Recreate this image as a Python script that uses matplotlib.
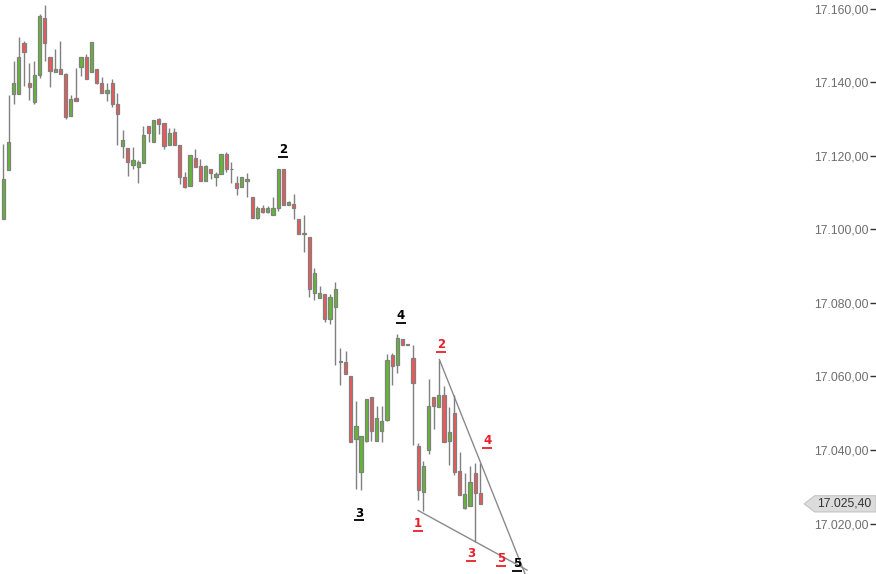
import numpy as np
import matplotlib
matplotlib.use('Agg')
import matplotlib.pyplot as plt
from matplotlib.patches import Polygon
from matplotlib.ticker import FuncFormatter
import matplotlib.transforms as mtransforms

# OHLC, one entry per candle
opens = [17102.9, 17116.0, 17136.7, 17136.7, 17150.6, 17139.7, 17134.5, 17141.9, 17157.4, 17146.7,
         17142.7, 17143.5, 17142.1, 17130.7, 17135.6, 17144.0, 17146.7, 17142.7, 17143.5, 17139.7,
         17137.0, 17139.7, 17134.0, 17122.5, 17122.0, 17117.6, 17116.8, 17117.9, 17128.2, 17123.6,
         17129.9, 17128.8, 17122.8, 17126.4, 17122.8, 17114.1, 17111.9, 17119.3, 17117.1, 17113.0,
         17116.3, 17114.1, 17114.9, 17120.4, 17116.3, 17112.7, 17111.4, 17113.0, 17108.7, 17103.2,
         17105.7, 17104.8, 17104.0, 17105.7, 17116.5, 17106.7, 17107.0, 17102.9, 17098.6, 17097.8,
         17082.8, 17081.2, 17082.3, 17075.7, 17079.0, 17064.0, 17064.0, 17060.2, 17043.1, 17034.1,
         17042.5, 17054.5, 17042.5, 17045.2, 17048.2, 17065.9, 17063.2, 17070.3, 17068.6, 17065.1,
         17041.2, 17028.7, 17040.1, 17054.5, 17051.8, 17055.1, 17042.5, 17050.1, 17034.4, 17024.3,
         17024.8, 17033.8, 17028.4]
highs = [17123.3, 17136.4, 17145.7, 17152.2, 17151.1, 17145.1, 17145.7, 17158.4, 17160.9, 17146.7,
         17148.9, 17151.1, 17142.4, 17136.4, 17143.8, 17146.7, 17147.6, 17150.8, 17143.5, 17141.3,
         17139.7, 17140.8, 17137.0, 17126.9, 17122.0, 17122.3, 17118.7, 17128.2, 17128.2, 17129.6,
         17130.2, 17128.8, 17127.4, 17127.4, 17122.8, 17115.5, 17120.1, 17121.7, 17119.0, 17117.4,
         17116.3, 17115.7, 17120.4, 17120.9, 17118.2, 17114.4, 17114.1, 17115.2, 17108.7, 17106.2,
         17106.7, 17106.2, 17108.7, 17116.3, 17116.5, 17107.6, 17109.5, 17102.9, 17103.8, 17098.0,
         17089.6, 17084.7, 17082.3, 17082.3, 17085.8, 17067.8, 17067.0, 17060.2, 17053.4, 17043.9,
         17054.0, 17054.5, 17052.0, 17052.0, 17066.2, 17066.5, 17071.6, 17070.3, 17068.6, 17068.6,
         17042.0, 17037.1, 17059.4, 17054.5, 17064.6, 17057.5, 17051.8, 17055.1, 17039.5, 17033.8,
         17035.7, 17036.5, 17036.5]
lows = [17102.9, 17116.0, 17134.0, 17136.7, 17138.9, 17135.0, 17134.0, 17141.0, 17145.7, 17138.6,
        17142.7, 17142.1, 17129.9, 17130.7, 17134.8, 17141.6, 17140.8, 17142.7, 17139.4, 17137.0,
        17134.8, 17133.1, 17122.8, 17119.3, 17114.4, 17116.5, 17112.7, 17117.9, 17123.6, 17123.6,
        17125.8, 17121.7, 17122.8, 17122.8, 17112.2, 17111.1, 17111.9, 17116.8, 17113.0, 17113.0,
        17113.6, 17111.9, 17114.9, 17115.7, 17112.7, 17109.2, 17111.4, 17108.7, 17103.2, 17102.7,
        17104.3, 17104.3, 17104.0, 17105.1, 17106.5, 17106.7, 17102.9, 17098.6, 17093.9, 17081.7,
        17080.9, 17081.2, 17074.9, 17074.4, 17063.2, 17057.8, 17060.8, 17042.3, 17029.5, 17029.2,
        17042.3, 17042.5, 17042.5, 17042.3, 17048.0, 17057.8, 17061.0, 17068.6, 17068.6, 17041.4,
        17026.5, 17023.5, 17039.0, 17045.8, 17051.8, 17042.3, 17036.0, 17033.3, 17027.8, 17024.0,
        17024.8, 17015.1, 17025.4]
closes = [17113.6, 17123.6, 17139.7, 17146.7, 17148.1, 17138.6, 17141.9, 17157.9, 17150.6, 17142.9,
          17143.5, 17142.1, 17130.4, 17135.3, 17134.8, 17146.7, 17140.8, 17150.8, 17139.7, 17137.0,
          17137.8, 17134.0, 17131.2, 17124.2, 17118.2, 17118.7, 17118.2, 17125.5, 17126.1, 17129.6,
          17128.5, 17122.5, 17126.1, 17122.8, 17114.1, 17111.4, 17120.1, 17116.8, 17113.0, 17117.1,
          17115.2, 17114.9, 17120.4, 17116.3, 17116.3, 17111.1, 17114.1, 17113.8, 17103.2, 17105.9,
          17104.8, 17105.9, 17105.7, 17116.3, 17106.5, 17107.3, 17105.9, 17098.6, 17099.1, 17083.9,
          17088.2, 17082.8, 17075.7, 17081.7, 17083.9, 17064.0, 17060.8, 17042.3, 17046.6, 17043.9,
          17054.0, 17045.2, 17048.8, 17048.0, 17064.6, 17062.9, 17070.5, 17068.6, 17068.6, 17058.3,
          17029.2, 17035.7, 17052.0, 17052.0, 17055.1, 17042.3, 17045.0, 17034.1, 17027.8, 17028.1,
          17031.4, 17028.4, 17025.4]

last_price = 17025.40
y_ticks = [17020, 17040, 17060, 17080, 17100, 17120, 17140, 17160]

# wave counts: (text, candle position, price, colour)
wave_labels = [('2', 54.0, 17121.6, 'black'), ('4', 76.7, 17076.6, 'black'),
               ('3', 68.6, 17022.9, 'black'), ('5', 99.1, 17009.2, 'black'),
               ('1', 80.0, 17020.1, '#e8202a'), ('2', 84.4, 17068.6, '#e8202a'),
               ('4', 93.3, 17042.6, '#e8202a'), ('3', 90.2, 17011.8, '#e8202a'),
               ('5', 96.0, 17010.6, '#e8202a')]

# wedge lines (start / end points)
lower_x = [80.0, 101.0]
lower_y = [17023.6, 17007.4]
upper_x = [84.1, 101.0]
upper_y = [17064.6, 17005.0]

up_col = '#62b832'
down_col = '#ef5656'
edge_col = '#808080'

fig = plt.figure(figsize=(8.76, 5.74), dpi=100)
ax = fig.add_axes([0, 0, 1, 1])

x = np.arange(len(opens))
o = np.array(opens)
c = np.array(closes)
ax.vlines(x, lows, highs, color=edge_col, linewidth=1, zorder=2)
bottoms = np.minimum(o, c)
heights = np.maximum(np.abs(c - o), 0.15)
cols = [up_col if cc > oo else down_col for oo, cc in zip(o, c)]
ax.bar(x, heights, bottom=bottoms, width=0.62, color=cols, edgecolor=edge_col,
       linewidth=0.9, zorder=3)

ax.plot(lower_x, lower_y, color='#8a8a8a', linewidth=1, zorder=1)
ax.plot(upper_x, upper_y, color='#8a8a8a', linewidth=1, zorder=1)

under = mtransforms.offset_copy(ax.transData, fig=fig, y=-5.2, units='points')
for txt, lx, ly, col in wave_labels:
    ax.text(lx, ly, txt, color=col, fontsize=8.5, fontweight='bold',
            ha='center', va='center', zorder=4)
    ax.plot([lx], [ly], marker='_', ms=7, mew=1.3, color=col, transform=under, zorder=4)

ax.set_xlim(-0.64, 168.3)
ax.set_ylim(17006.33, 17162.31)

for s in ax.spines.values():
    s.set_visible(False)
ax.xaxis.set_visible(False)
ax.yaxis.tick_right()
ax.set_yticks(y_ticks)
ax.yaxis.set_major_formatter(FuncFormatter(
    lambda v, p: '{:,.2f}'.format(v).replace(',', 'X').replace('.', ',').replace('X', '.')))
ax.tick_params(axis='y', direction='in', length=4, width=1, color='#333333',
               pad=-5.5, labelsize=8.8, labelcolor='#6e6e6e')
for lab in ax.get_yticklabels():
    lab.set_horizontalalignment('right')
    lab.set_fontfamily('Liberation Sans')

# last price marker on the axis
trans = mtransforms.blended_transform_factory(ax.transAxes, ax.transData)
hh = 2.2
box = Polygon([(0.918, last_price), (0.930, last_price + hh), (1.0, last_price + hh),
               (1.0, last_price - hh), (0.930, last_price - hh)], closed=True,
              transform=trans, facecolor='#dcdcdc', edgecolor='#c4c4c4', linewidth=0.8,
              zorder=5, clip_on=False)
ax.add_patch(box)
ax.text(0.9945, last_price, '17.025,40', transform=trans, ha='right', va='center',
        fontsize=8.8, color='#333333', family='Liberation Sans', zorder=6)

fig.savefig('out.png', dpi=100)
